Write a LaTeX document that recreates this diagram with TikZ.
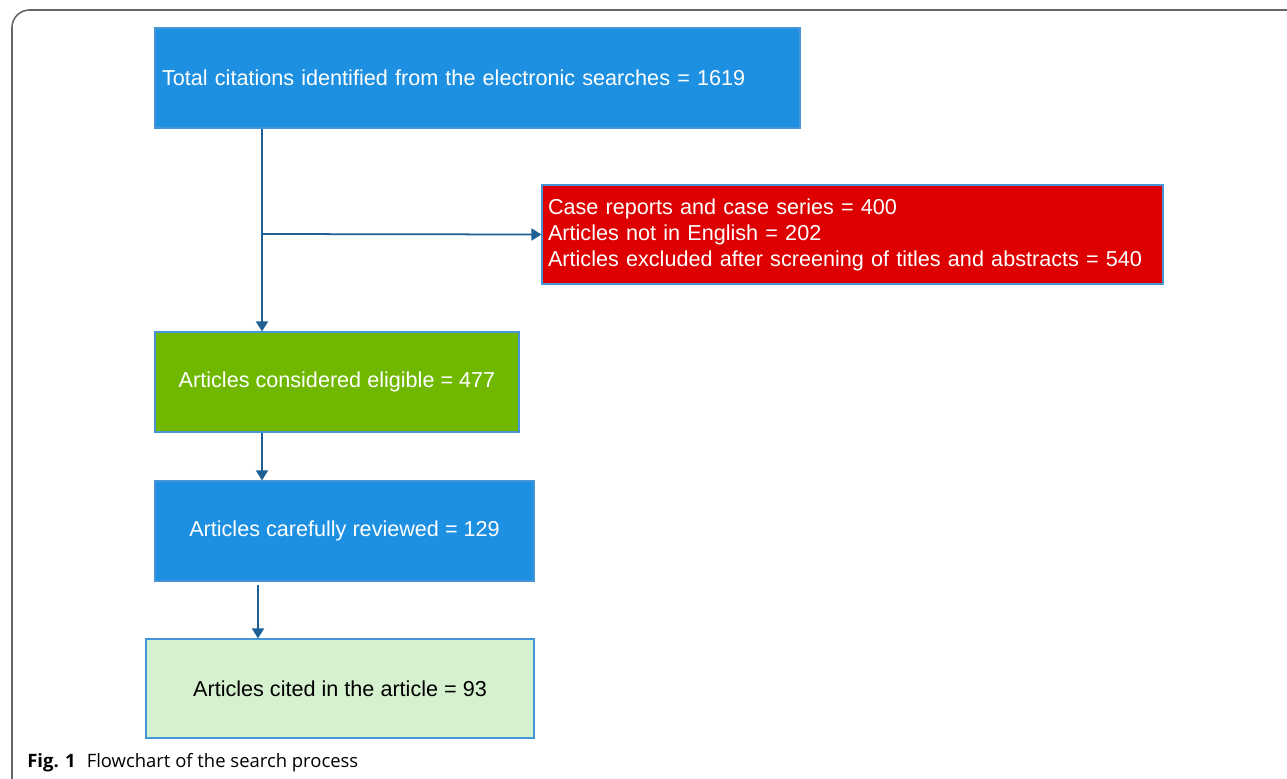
\documentclass[tikz,border=0pt]{standalone}
\usepackage{fontspec}
\setmainfont{Liberation Sans}
\newfontfamily\capfont{Open Sans}
\usetikzlibrary{arrows.meta}
\definecolor{boxblue}{RGB}{30,144,226}
\definecolor{boxred}{RGB}{222,0,0}
\definecolor{boxgreen}{RGB}{112,184,0}
\definecolor{boxpale}{RGB}{214,241,208}
\definecolor{edgeblue}{RGB}{70,150,215}
\definecolor{arrowblue}{RGB}{30,95,150}

\begin{document}
\begin{tikzpicture}[x=0.02cm, y=-0.02cm]
\tikzset{box/.style = {shape=rectangle, draw=edgeblue, line width=0.7pt, inner xsep=0pt, text=white, font=\fontsize{12.3}{14.8}\selectfont}}
    \tikzset{edge/.style = {draw=arrowblue, line width=1pt, -{Triangle[length=0.2cm, width=0.24cm]}}}
\useasboundingbox (0,0) rectangle (1287,778);

% frame of the figure
\draw[gray!80!black, line width=0.9pt, rounded corners=10] (12,780) -- (12,10) -- (1290,10);

% the boxes
\node[box, fill=boxblue, minimum width=12.9cm, minimum height=2cm, text width=12.62cm, align=left] (total) at (477.5,78) {Total citations identified from the electronic searches = 1619};
\node[box, fill=boxred, minimum width=12.42cm, minimum height=1.98cm, text width=12.18cm, align=left] (excluded) at (852.5,234.5) {\rule{0pt}{4pt}Case reports and case series = 400\\Articles not in English = 202\\Articles excluded after screening of titles and abstracts = 540};
\node[box, fill=boxgreen, minimum width=7.28cm, minimum height=2cm] (eligible) at (337,382) {Articles considered eligible = 477};
\node[box, fill=boxblue, minimum width=7.58cm, minimum height=2cm] (reviewed) at (344.5,531) {Articles carefully reviewed = 129};
\node[box, fill=boxpale, text=black, minimum width=7.76cm, minimum height=1.98cm] (cited) at (340,688.5) {Articles cited in the article = 93};
\coordinate (split) at (262,234);
\coordinate (low) at (258,585);

% the arrows
\draw[edge] (split |- total.south) -- (split |- eligible.north);
\draw[edge] (split) -- (excluded.west);
\draw[edge] (split |- eligible.south) -- (split |- reviewed.north);
\draw[edge] (low) -- (low |- cited.north);

\node[anchor=base west, inner sep=0pt, font=\capfont\fontsize{10.5}{12}\selectfont] (caption) at (27,767) {\textbf{Fig. 1}\hspace{0.6em}Flowchart of the search process};

\end{tikzpicture}
\end{document}
